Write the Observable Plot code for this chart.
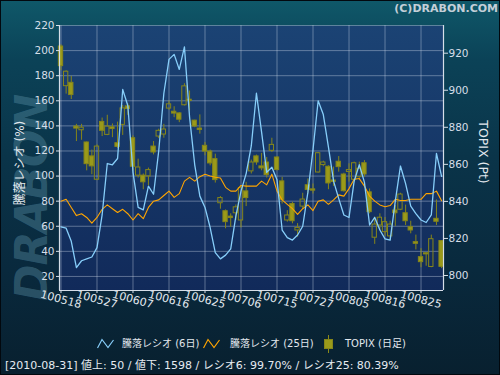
<!DOCTYPE html>
<html><head><meta charset="utf-8">
<script src="https://cdn.jsdelivr.net/npm/d3@7"></script>
<script src="https://cdn.jsdelivr.net/npm/@observablehq/plot@0.6"></script>
<style>
html,body{margin:0;padding:0;background:#06121c;}
#wrap{position:relative;width:500px;height:375px;overflow:hidden;
  box-shadow:inset 0 0 0 1px #02080e;
  background:linear-gradient(180deg,#0f5869 0%,#0b4257 16%,#0a3449 42%,#09293d 72%,#08202f 100%);
  font-family:"DejaVu Sans","Noto Sans CJK JP",sans-serif;color:#dde4ec;}
.abs{position:absolute;white-space:nowrap;line-height:1;}
#wm{left:31px;top:198px;transform:translate(-50%,-50%) rotate(-90deg);font:italic bold 44px "DejaVu Sans";color:rgba(95,150,172,0.40);letter-spacing:-1px;}
#chart{position:absolute;left:0;top:0;}
#copy{right:2px;top:2px;font:bold 11px "DejaVu Sans";color:#c4cfd8;}
#ltitle{left:20px;top:163px;transform:translate(-50%,-50%) rotate(-90deg);font-size:12px;color:#e2e8ee;}
#rtitle{left:483px;top:152px;transform:translate(-50%,-50%) rotate(90deg);font-size:12.5px;color:#e2e8ee;}
.lg{top:339px;font-size:10px;color:#e2e8ee;}
.ic{position:absolute;}
#status{left:5px;top:360px;font-size:11px;color:#e6ebf0;}
</style></head><body>
<div id="wrap">
  <div id="wm" class="abs">DRABON</div>
  <div id="chart"></div>
  <div id="copy" class="abs">(C)DRABON.COM</div>
  <div id="ltitle" class="abs"></div>
  <div id="rtitle" class="abs"></div>
  <svg class="ic" style="left:97px;top:338px" width="17" height="11"><polyline points="0.5,10 5,1.5 11,9.5 16.5,2" fill="none" stroke="#87cefa" stroke-width="1.2"/></svg>
  <div id="lg0" class="abs lg" style="left:122px"></div>
  <svg class="ic" style="left:203px;top:338px" width="17" height="11"><polyline points="0.5,10 5,1.5 11,9.5 16.5,2" fill="none" stroke="#ffa500" stroke-width="1.2"/></svg>
  <div id="lg1" class="abs lg" style="left:230px"></div>
  <svg class="ic" style="left:324px;top:335px" width="9" height="18"><line x1="4.5" y1="0" x2="4.5" y2="18" stroke="#8a8a18"/><rect x="0.5" y="4.5" width="8" height="9" fill="#9a9a1a" stroke="#85851a"/></svg>
  <div id="lg2" class="abs lg" style="left:345px"></div>
  <div id="status" class="abs"></div>
</div>
<script>
// ---- data ----
const dates = ["100518","100519","100520","100521","100524","100525","100526","100527","100528","100531",
"100601","100602","100603","100604","100607","100608","100609","100610","100611","100614",
"100615","100616","100617","100618","100621","100622","100623","100624","100625","100628",
"100629","100630","100701","100702","100705","100706","100707","100708","100709","100712",
"100713","100714","100715","100716","100720","100721","100722","100723","100726","100727",
"100728","100729","100730","100802","100803","100804","100805","100806","100809","100810",
"100811","100812","100813","100816","100817","100818","100819","100820","100823","100824",
"100825","100826","100827","100830","100831"];
const ratio6 = [59.5,58.5,48,27,32.5,34,35.5,43,69,110,
109,114,169,156,103,75,73,92,85.5,120,
166,193,197,185,203,147,109,84,75,59,
39,34,37,42,68,88,102,124,166,135,
103,107,97,57,51,49,53,60,87,121,
160,149,123,96,82,69,67,96,109,95,
61,67,57,50,49,80,108,94,76,70,
65,63,69,118,99.7];
const ratio25 = [80,81.5,75,68.5,70,67,62.5,67,73.5,77,
74,71,73.5,70,65,70,66,75,80,81,
84.5,88,83,86,96,99,96,99.5,101.5,100,
99,98.5,91,88,88,92.5,92,92,92,96,
93,101.5,88,81,77.5,74,69.5,74,77,72.5,
80,81,77.5,81,85,84,90,97.5,98,92,
84,80,77,75.5,76.5,81.5,80.5,80.5,81.5,81.5,
81.5,86,86,88,80.4];
const topixOpen = [923.6,902.2,904.0,880.4,878.4,871.8,864.3,851.7,882.9,875.9,
880.0,871.4,881.3,891.3,874.1,853.9,853.9,853.5,869.6,875.0,
876.1,890.1,888.4,887.5,891.9,894.9,883.6,879.3,870.0,866.9,
862.8,839.0,834.7,831.8,833.6,829.7,845.4,856.2,864.3,858.9,
861.0,867.3,863.7,850.8,829.7,838.6,824.3,837.2,848.7,846.5,
855.6,859.6,858.7,851.3,861.4,854.5,855.9,851.7,853.1,860.6,
844.9,820.4,827.0,823.4,821.1,835.1,835.5,833.6,826.1,818.0,
809.9,812.0,804.6,830.6,818.6];
const topixHigh = [924.5,910.5,907.5,881.6,881.6,872.1,867.7,870.5,885.0,886.5,
881.8,882.8,891.8,892.7,875.4,862.8,854.8,858.0,872.3,879.0,
881.6,894.2,891.1,887.9,903.5,899.6,883.8,886.7,871.8,867.7,
865.5,842.6,835.4,833.3,838.1,847.9,850.3,862.3,865.0,865.9,
863.7,874.1,864.1,853.0,835.0,839.5,828.0,844.4,852.1,849.4,
866.3,861.7,859.2,858.5,864.2,855.2,860.3,861.2,861.2,862.0,
846.7,831.5,833.3,831.3,829.3,837.8,844.4,838.0,829.3,821.8,
814.5,812.3,821.8,840.8,818.8];
const topixLow = [910.5,897.9,895.0,872.3,873.0,856.5,854.4,851.2,875.0,875.5,
874.4,868.6,875.6,886.4,856.5,852.6,846.3,848.5,865.1,873.9,
874.1,889.2,885.2,882.5,891.5,888.8,879.8,876.3,864.6,859.2,
849.9,835.8,825.2,826.0,829.7,825.7,837.2,854.8,859.5,856.5,
852.6,866.4,856.5,838.6,828.8,827.9,820.7,835.9,844.0,844.0,
855.3,858.7,846.3,848.1,855.8,845.0,850.4,850.4,852.5,853.1,
833.3,816.8,824.3,821.1,819.3,826.5,835.0,827.0,822.5,813.8,
804.2,805.0,804.2,827.0,803.7];
const topixClose = [913.0,910.0,897.4,879.3,879.8,860.1,858.9,869.6,878.1,880.4,
879.1,869.4,890.2,889.9,858.7,858.3,850.3,856.9,866.4,878.1,
878.8,892.4,887.4,884.1,902.1,894.2,880.4,878.6,866.9,860.5,
851.5,841.8,828.8,831.0,836.8,847.2,841.8,861.0,861.0,857.8,
854.2,870.5,856.9,840.8,832.4,829.3,825.7,841.0,846.2,845.8,
866.0,861.0,849.7,850.5,858.5,845.5,856.9,860.6,857.6,854.5,
834.2,827.5,831.2,828.8,827.5,833.6,843.7,829.3,824.3,817.1,
807.2,811.4,819.6,829.0,804.67];
const leftTicks = [20,40,60,80,100,120,140,160,180,200,220];
const rightTicks = [800,820,840,860,880,900,920];
const xTickIdx = [0,7,14,21,28,35,42,49,56,63,70];
const legendLabels = ["騰落レシオ (6日)","騰落レシオ (25日)","TOPIX (日足)"];
const leftTitle = "騰落レシオ (%)";
const rightTitle = "TOPIX (Pt)";
const statusDate = "2010-08-31", advances = 50, declines = 1598, lastR6 = "99.70", lastR25 = "80.39";

// ---- scales ----
const leftDomain = [8.8, 220];
const rightDomain = [791.9, 934.95];
const toLeft = p => leftDomain[0] + (p - rightDomain[0]) * (leftDomain[1]-leftDomain[0]) / (rightDomain[1]-rightDomain[0]);
const fromLeft = v => rightDomain[0] + (v - leftDomain[0]) * (rightDomain[1]-rightDomain[0]) / (leftDomain[1]-leftDomain[0]);

const rows = dates.map((d,i) => ({
  i, date: d, r6: ratio6[i], r25: ratio25[i],
  o: topixOpen[i], h: topixHigh[i], l: topixLow[i], c: topixClose[i]
}));

const candleFill = "#9a9a1a", candleStroke = "#86861a";
const gridColor = "rgba(215,225,240,0.38)";
const axisColor = "#d6dee8";

const defsMark = () => {
  const ns = "http://www.w3.org/2000/svg";
  const defs = document.createElementNS(ns, "defs");
  const g = document.createElementNS(ns, "linearGradient");
  g.setAttribute("id", "plotbg");
  g.setAttribute("x1","0"); g.setAttribute("y1","0"); g.setAttribute("x2","0"); g.setAttribute("y2","1");
  [["0%","#1b4374"],["100%","#112a5a"]].forEach(([o,c]) => {
    const s = document.createElementNS(ns, "stop");
    s.setAttribute("offset", o); s.setAttribute("stop-color", c); g.appendChild(s);
  });
  defs.appendChild(g);
  return defs;
};

const xDomain = [-0.29, 74.37];

const chart = Plot.plot({
  width: 500, height: 315,
  marginTop: 25, marginBottom: 25, marginLeft: 59, marginRight: 57,
  x: {domain: xDomain, label: null, axis: null},
  y: {domain: leftDomain, label: null, axis: null},
  style: {background: "transparent", color: axisColor, fontFamily: "DejaVu Sans, Noto Sans CJK JP, sans-serif"},
  marks: [
    defsMark,
    Plot.frame({fill: "url(#plotbg)", stroke: "none"}),
    Plot.gridY(leftTicks, {stroke: gridColor, strokeOpacity: 1}),
    Plot.gridX(xTickIdx, {stroke: gridColor, strokeOpacity: 1}),
    // candles: wicks (upper and lower), then bodies
    Plot.ruleX(rows, {x: "i", y1: d => toLeft(d.h), y2: d => toLeft(Math.max(d.o, d.c)), stroke: candleStroke, strokeWidth: 1}),
    Plot.ruleX(rows, {x: "i", y1: d => toLeft(d.l), y2: d => toLeft(Math.min(d.o, d.c)), stroke: candleStroke, strokeWidth: 1}),
    Plot.rect(rows, {
      x1: d => d.i - 0.42, x2: d => d.i + 0.42,
      y1: d => toLeft(d.o), y2: d => toLeft(d.c),
      fill: d => d.c < d.o ? candleFill : "none",
      stroke: candleStroke, strokeWidth: 1, insetTop: 0, insetBottom: 0
    }),
    Plot.line(rows, {x: "i", y: "r25", stroke: "#ffa500", strokeWidth: 1.1}),
    Plot.line(rows, {x: "i", y: "r6", stroke: "#87cefa", strokeWidth: 1.3}),
    // axis lines
    Plot.ruleX([xDomain[0]], {stroke: axisColor, strokeWidth: 1.2}),
    Plot.ruleX([xDomain[1]], {stroke: axisColor, strokeWidth: 1.2}),
    Plot.ruleY([leftDomain[0]], {stroke: axisColor, strokeWidth: 1.2}),
    // left axis
    Plot.axisY(leftTicks, {anchor: "left", tickSize: 3, tickPadding: 2, fontSize: 10.5, color: axisColor, label: null}),
    // right axis (TOPIX)
    Plot.axisY(rightTicks.map(toLeft), {anchor: "right", tickSize: 4, tickPadding: 1, fontSize: 10.5, color: axisColor, label: null,
      tickFormat: d => String(Math.round(fromLeft(d)))}),
    // x axis ticks and rotated labels
    Plot.axisX(xTickIdx, {anchor: "bottom", tickSize: 3, tickFormat: () => "", color: axisColor, label: null}),
    Plot.text(xTickIdx, {x: d => d, frameAnchor: "bottom", dy: 9, rotate: 15, text: d => dates[d],
      fill: "#e2e8ee", fontSize: 11, textAnchor: "middle", lineAnchor: "middle"})
  ]
});
document.getElementById("chart").appendChild(chart);

document.getElementById("ltitle").textContent = leftTitle;
document.getElementById("rtitle").textContent = rightTitle;
legendLabels.forEach((t,k) => document.getElementById("lg"+k).textContent = t);
document.getElementById("status").textContent =
  `[${statusDate}] 値上: ${advances} / 値下: ${declines} / レシオ6: ${lastR6}% / レシオ25: ${lastR25}%`;
</script>
</body></html>
